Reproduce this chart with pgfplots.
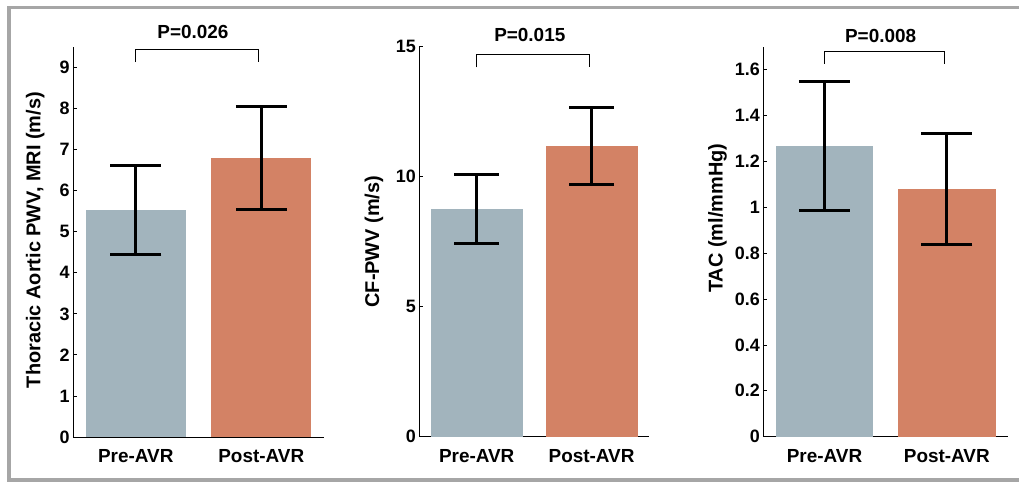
\documentclass[border=0pt]{standalone}
\usepackage{fontspec}
\setmainfont{Liberation Sans}
\usepackage{pgfplots}
\pgfplotsset{compat=1.18}
\definecolor{preC}{RGB}{162,180,189}
\definecolor{postC}{RGB}{211,130,101}
\definecolor{frameC}{RGB}{166,166,166}
\tikzset{pl/.style={font=\bfseries\fontsize{19}{19}\selectfont, anchor=center}}
\pgfplotsset{
 myax/.style={
  scale only axis, height=390bp,
  ybar, bar shift=0pt, bar width=0.8,
  xmin=0.5, xmax=2.5, ymin=0,
  axis x line*=bottom, axis y line*=left,
  axis line style={line width=0.8bp, black},
  xtick={1,2}, xticklabels={Pre-AVR,Post-AVR},
  x tick style={draw=none},
  y tick style={line width=0.8bp, black},
  major tick length=4bp, tick align=inside,
  /pgf/number format/assume math mode=true,
  yticklabel style={font=\bfseries\fontsize{18}{18}\selectfont},
  xticklabel style={font=\bfseries\fontsize{19}{19}\selectfont, yshift=-9bp},
  ylabel style={font=\bfseries\fontsize{20}{20}\selectfont, anchor=center},
  clip=false,
  error bars/y dir=both, error bars/y explicit,
  error bars/error mark=-,
  error bars/error bar style={line width=3bp, black},
  error bars/error mark options={rotate=90, line width=3bp, mark size=25.5bp, black},
 },
}
\begin{document}
\begin{tikzpicture}
\path[use as bounding box] (0,0) rectangle (1019bp,483bp);
\draw[frameC, line width=3.5bp] (1030bp,475.5bp) -- (9.2bp,475.5bp) -- (9.2bp,3bp) -- (1030bp,3bp);

% Panel 1
\begin{axis}[myax, at={(73bp,46bp)}, anchor=south west, width=251bp,
  ymax=9.5, ytick={0,1,...,9},
  ylabel={Thoracic Aortic PWV, MRI (m/s)},
  ylabel style={at={(axis description cs:-0.151,0.505)}}]
\addplot[fill=preC, draw=none] coordinates {(1,5.53) +- (0,1.085)};
\addplot[fill=postC, draw=none] coordinates {(2,6.80) +- (0,1.26)};
\draw[line width=0.9bp] (axis cs:1,9.13) -- (axis cs:1,9.44) -- (axis cs:1.98,9.44) -- (axis cs:1.98,9.13);
\node[pl] at (axis cs:1.456,9.86) {P=0.026};
\end{axis}

% Panel 2
\begin{axis}[myax, at={(419.3bp,46.3bp)}, anchor=south west, width=229.7bp,
  ymax=15, ytick={0,5,10,15},
  error bars/error mark options={rotate=90, line width=3bp, mark size=22.5bp, black},
  ylabel={CF-PWV (m/s)},
  ylabel style={at={(axis description cs:-0.197,0.5)}}]
\addplot[fill=preC, draw=none] coordinates {(1,8.76) +- (0,1.34)};
\addplot[fill=postC, draw=none] coordinates {(2,11.18) +- (0,1.49)};
\draw[line width=0.9bp] (axis cs:1,14.2) -- (axis cs:1,14.7) -- (axis cs:1.98,14.7) -- (axis cs:1.98,14.2);
\node[pl] at (axis cs:1.462,15.45) {P=0.015};
\end{axis}

% Panel 3
\begin{axis}[myax, at={(763.3bp,46.3bp)}, anchor=south west, width=244.7bp,
  ymax=1.7, ytick={0,0.2,0.4,0.6,0.8,1,1.2,1.4,1.6},
  yticklabel style={/pgf/number format/fixed, /pgf/number format/precision=1},
  ylabel={TAC (ml/mmHg)},
  ylabel style={at={(axis description cs:-0.187,0.56)}}]
\addplot[fill=preC, draw=none] coordinates {(1,1.268) +- (0,0.281)};
\addplot[fill=postC, draw=none] coordinates {(2,1.081) +- (0,0.242)};
\draw[line width=0.9bp] (axis cs:1,1.625) -- (axis cs:1,1.68) -- (axis cs:1.98,1.68) -- (axis cs:1.98,1.625);
\node[pl] at (axis cs:1.459,1.745) {P=0.008};
\end{axis}
\end{tikzpicture}
\end{document}
